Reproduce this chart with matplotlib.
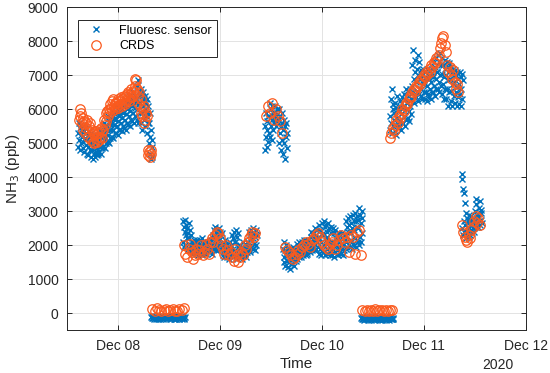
import pandas as pd
import matplotlib.pyplot as plt
import matplotlib.dates as mdates

plt.rcParams['font.family'] = ['Liberation Sans', 'DejaVu Sans']

# time spans (start, end) of each measurement block
sensor_spans = [('2020-12-07 14:40', '2020-12-08 08:10'),
                ('2020-12-08 07:55', '2020-12-08 15:50'),
                ('2020-12-08 15:20', '2020-12-09 08:40'),
                ('2020-12-09 10:35', '2020-12-09 15:50'),
                ('2020-12-09 14:55', '2020-12-10 09:35'),
                ('2020-12-10 09:20', '2020-12-10 16:50'),
                ('2020-12-10 16:05', '2020-12-11 09:10'),
                ('2020-12-11 08:55', '2020-12-11 13:40')]
crds_spans = [('2020-12-07 14:50', '2020-12-08 07:55'),
              ('2020-12-08 08:10', '2020-12-08 15:35'),
              ('2020-12-08 15:35', '2020-12-09 08:25'),
              ('2020-12-09 11:00', '2020-12-09 14:40'),
              ('2020-12-09 15:20', '2020-12-10 09:10'),
              ('2020-12-10 09:35', '2020-12-10 16:35'),
              ('2020-12-10 16:05', '2020-12-11 08:10'),
              ('2020-12-11 09:00', '2020-12-11 13:10')]

# fluorescence sensor NH3 (ppb), per block
sensor_a = [5300, 4900, 5600, 5100, 5450, 4800, 5250, 5550, 5000, 5350,
            5200, 4850, 5500, 5050, 5350, 4750, 5150, 5450, 4950, 5300,
            5100, 4700, 5450, 4900, 5250, 4650, 5000, 5350, 4800, 5200,
            5000, 4600, 5300, 4800, 5150, 4550, 4900, 5250, 4700, 5100,
            4950, 4600, 5250, 4750, 5100, 4650, 4850, 5200, 4700, 5050,
            5100, 4750, 5400, 4900, 5250, 4700, 5000, 5350, 4850, 5200,
            5300, 4900, 5600, 5100, 5450, 4850, 5200, 5550, 5000, 5400,
            5500, 5050, 5800, 5250, 5650, 5000, 5400, 5750, 5150, 5550,
            5650, 5200, 5950, 5400, 5800, 5150, 5550, 5900, 5300, 5700,
            5750, 5300, 6100, 5500, 5900, 5250, 5650, 6000, 5400, 5800,
            5850, 5400, 6200, 5600, 6000, 5350, 5750, 6100, 5500, 5900,
            5950, 5450, 6300, 5700, 6100, 5400, 5850, 6200, 5600, 6000,
            6050, 5550, 6400, 5800, 6200, 5500, 5950, 6300, 5700, 6100,
            6150, 5650, 6500, 5900, 6300, 5600, 6050, 6400, 5800, 6200,
            6300, 5700, 6700, 6000, 6850, 5600, 6200, 6550, 5900, 6400,
            6200, 5600, 6600, 5900, 6400, 5400, 6100, 6500, 5700, 6300,
            6000, 5500, 6400, 5800, 6200, 5300, 5900, 6300, 5600, 6100,
            5600, 5000, 5900, 5200, 4700, 5400, 4550, 4900, 5100, 4600]
sensor_b = [-110, -150, -90, -130, -170, -100, -140, -80, -120, -160,
            -130, -100, -160, -90, -140, -120, -170, -110, -150, -85,
            -120, -160, -95, -140, -110, -175, -130, -90, -150, -105,
            -140, -100, -165, -120, -85, -150, -110, -135, -95, -160,
            -115, -155, -90, -130, -170, -105, -145, -80, -125, -165,
            -100, -140, -120, -160, -90, -150, -110, -130, -170, -95]
sensor_c = [2700, 2100, 2550, 1950, 2400, 2750, 2000, 2300, 2600, 2200,
            2500, 1900, 2350, 2650, 2050, 2200, 1850, 2450, 2000, 2300,
            1900, 2100, 1750, 2000, 1800, 2150, 1850, 1950, 2050, 1800,
            2000, 1750, 2150, 1850, 2100, 1700, 1950, 2050, 1800, 1900,
            2150, 1750, 2000, 1800, 2200, 1700, 1900, 2100, 1850, 2050,
            1900, 2100, 1750, 2000, 1800, 2050, 1850, 1950, 2100, 1800,
            2000, 1800, 2100, 1850, 1950, 2150, 1750, 2050, 1900, 2200,
            2300, 1900, 2450, 2100, 2550, 2000, 2350, 1850, 2200, 2400,
            2250, 1850, 2500, 2000, 2150, 2400, 1900, 2300, 2050, 2350,
            1950, 1700, 2100, 1800, 2000, 1650, 1900, 2150, 1750, 1850,
            1850, 1650, 2050, 1750, 1950, 1600, 1800, 2100, 1700, 1900,
            2000, 1700, 2300, 1800, 2200, 1650, 1900, 2400, 1750, 2100,
            2100, 1650, 2450, 1800, 2250, 1600, 1950, 2350, 1700, 2000,
            1800, 1650, 2000, 1700, 1950, 1600, 1850, 2100, 1750, 1900,
            1850, 1700, 2050, 1750, 2000, 1650, 1900, 2100, 1800, 1950,
            2100, 1850, 2400, 1950, 2300, 1800, 2200, 2450, 2000, 2350,
            2200, 1900, 2500, 2050, 2350, 1850, 2250, 2450, 2000, 2300]
sensor_d = [5500, 4800, 5900, 5200, 5650, 4900, 5400, 5800, 5050, 5300,
            5800, 5200, 6200, 5500, 6000, 5100, 5700, 6100, 5400, 5900,
            5900, 5600, 6100, 5700, 5800, 5500, 6000, 5650, 5850, 5750,
            5700, 5000, 6000, 5300, 5800, 4800, 5500, 5900, 5100, 5600,
            5400, 4700, 5700, 5000, 5500, 4550, 5200, 5600, 4850, 5300]
sensor_e = [1900, 1500, 2100, 1650, 1850, 1400, 1750, 2000, 1550, 1800,
            1700, 1350, 1900, 1500, 1800, 1300, 1600, 1850, 1450, 1650,
            1750, 1450, 1950, 1600, 1850, 1400, 1700, 1900, 1550, 1800,
            1850, 1600, 2050, 1700, 1950, 1650, 1800, 2100, 1750, 1900,
            1900, 1650, 2100, 1750, 2000, 1700, 1850, 2150, 1800, 1950,
            2000, 1700, 2150, 1800, 2050, 1750, 1900, 2100, 1850, 1950,
            2100, 1800, 2400, 1950, 2250, 1850, 2050, 2350, 1900, 2200,
            2150, 1850, 2500, 2000, 2300, 1900, 2100, 2450, 1950, 2250,
            2200, 1750, 2600, 1900, 2450, 1700, 2100, 2650, 1850, 2350,
            2300, 1800, 2700, 2000, 2550, 1700, 2150, 2600, 1900, 2400,
            2250, 1750, 2650, 1950, 2500, 1700, 2100, 2550, 1850, 2350,
            2100, 1700, 2500, 1900, 2350, 1650, 2000, 2450, 1800, 2200,
            2000, 1750, 2300, 1850, 2200, 1700, 1950, 2350, 1800, 2100,
            2050, 1750, 2350, 1900, 2250, 1700, 2000, 2300, 1850, 2150,
            2300, 1900, 2700, 2100, 2550, 1950, 2400, 2800, 2000, 2600,
            2400, 1950, 2850, 2150, 2650, 1900, 2500, 2900, 2050, 2700,
            2450, 2000, 2950, 2200, 2700, 1950, 2550, 2850, 2100, 2750,
            2500, 2000, 3100, 2250, 2900, 2100, 2650, 3000, 2350, 2800]
sensor_f = [-140, -180, -120, -160, -190, -130, -170, -110, -150, -180,
            -160, -125, -185, -145, -115, -175, -135, -190, -155, -120,
            -130, -170, -110, -150, -185, -140, -165, -120, -180, -145,
            -175, -135, -155, -115, -190, -160, -125, -170, -140, -185,
            -145, -180, -120, -165, -135, -190, -150, -110, -170, -130,
            -160, -125, -185, -140, -175, -115, -155, -180, -135, -165]
sensor_g = [5800, 5400, 6300, 5600, 6600, 5300, 6000, 5500, 6150, 5700,
            5900, 5350, 6200, 5550, 6050, 5250, 5750, 6400, 5450, 6000,
            5950, 5500, 6250, 5650, 6100, 5400, 5850, 6350, 5600, 6050,
            6100, 5600, 6450, 5800, 6300, 5500, 6000, 6600, 5700, 6200,
            6200, 5750, 6550, 5950, 6400, 5650, 6100, 6600, 5850, 6300,
            6700, 6300, 7300, 6500, 7750, 6200, 6900, 7450, 6400, 7100,
            6800, 6350, 7200, 6550, 7600, 6250, 7000, 7400, 6450, 6900,
            6900, 6400, 7150, 6600, 7000, 6300, 6750, 7200, 6500, 6850,
            6800, 6300, 7100, 6500, 6950, 6250, 6700, 7200, 6450, 6900,
            6900, 6350, 7150, 6600, 7000, 6300, 6800, 7200, 6500, 6950,
            7000, 6500, 7400, 6700, 7250, 6400, 6900, 7500, 6600, 7100,
            7100, 6600, 7600, 6800, 7400, 6500, 7000, 7650, 6700, 7300,
            7050, 6450, 7500, 6750, 7300, 6300, 6950, 7450, 6600, 7200,
            7000, 6300, 7400, 6600, 7250, 6100, 6850, 7350, 6500, 7150,
            6900, 6250, 7250, 6550, 7100, 6100, 6750, 7200, 6400, 7000,
            6800, 6200, 7150, 6500, 7000, 6100, 6650, 7100, 6350, 6900,
            6750, 6150, 7100, 6450, 6950, 6100, 6600, 7050, 6300, 6850]
sensor_h = [4100, 2500, 3950, 2300, 3650, 2700, 3550, 2400, 3250, 2600,
            2950, 2200, 2800, 2400, 2650, 2300, 2750, 2500, 2900, 2250,
            2600, 2300, 2750, 2450, 2850, 2350, 2700, 2500, 2550, 2400,
            2700, 2500, 3000, 2600, 3350, 2550, 3200, 2800, 2900, 2650,
            2800, 2550, 3100, 2700, 3300, 2600, 2950, 2750, 3050, 2650]

# CRDS NH3 (ppb), per block
crds_a = [5700, 6000, 5800, 5900, 5600, 5750, 5400, 5650,
          5300, 5600, 5450, 5700, 5200, 5500, 5350, 5600,
          5100, 5400, 5050, 5300, 5000, 5250, 5150, 5350,
          5050, 5300, 5100, 5400, 5200, 5450, 5150, 5350,
          5400, 5700, 5550, 5900, 5650, 5950, 5800, 6000,
          5900, 6150, 6050, 6250, 5950, 6300, 6100, 6200,
          6000, 6200, 6100, 6300, 6050, 6250, 6150, 6350,
          6100, 6300, 6200, 6400, 6150, 6350, 6250, 6450,
          6300, 6500, 6250, 6450, 6400, 6600, 6350, 6550,
          6500, 6700, 6900, 6850, 6600, 6400, 6200, 6500,
          6100, 5900, 6300, 5800, 6000, 5600, 6100, 5700,
          5900, 5800, 4800, 4650, 4750, 4600, 4700, 4800]
crds_b = [120, 80, 150, 90, 60, 110, 130, 70, 100, 140, 80, 60, 120, 90, 150]
crds_c = [2000, 1750, 1650, 1900, 2050, 1800, 1600, 1700, 1900, 1750,
          1850, 2000, 1700, 1800, 2050, 1900, 1750, 2100, 2200, 2100,
          2300, 2400, 2350, 2200, 2000, 1900, 1750, 2000, 1850, 1700,
          1800, 1650, 1550, 1900, 1700, 1500, 1650, 1800, 1700, 2000,
          1900, 2100, 2200, 2300, 2400, 2250, 2350]
crds_d = [5800, 6100, 5900, 6200, 5700, 6000, 5800, 5650, 5300]
crds_e = [1950, 1850, 1800, 1700, 1600, 1650, 1750, 1850, 1800, 1950,
          2000, 2100, 2050, 1950, 2150, 2200, 2300, 2350, 2250, 2100,
          2000, 1950, 1900, 2050, 2100, 2200, 1900, 2000, 2150, 2300,
          2200, 2100, 2250, 1800, 2300, 2250, 1750, 2400, 2450, 1700]
crds_f = [90, 60, 110, 70, 100, 80, 120, 60, 90, 110, 70, 100, 80, 110, 90]
crds_g = [5150, 5300, 5450, 5350, 5550, 5700, 5600, 5800, 5750, 5900,
          6000, 5950, 6100, 6200, 6150, 6300, 6400, 6350, 6500, 6600,
          6550, 6700, 6650, 6800, 6750, 6900, 6850, 7000, 6950, 7100,
          7050, 7200, 7100, 7300, 7250, 7400, 7350, 7500, 7450, 7600,
          7800, 7950, 8100, 8150, 7900, 7700, 7300, 7100, 7250, 7000,
          6900, 7150, 6800, 6600, 6750, 6500]
crds_h = [2600, 2400, 2250, 2150, 2100, 2300, 2200, 2450, 2550, 2700, 2850, 2650,
          2800, 2600]

sensor_blocks = [sensor_a, sensor_b, sensor_c, sensor_d, sensor_e, sensor_f, sensor_g, sensor_h]
crds_blocks = [crds_a, crds_b, crds_c, crds_d, crds_e, crds_f, crds_g, crds_h]


def build_series(spans, blocks):
    """Spread each block's readings evenly over its time span."""
    parts = []
    for (start, end), vals in zip(spans, blocks):
        t = pd.date_range(start, end, periods=len(vals))
        parts.append(pd.Series(vals, index=t))
    return pd.concat(parts)


sensor = build_series(sensor_spans, sensor_blocks)
crds = build_series(crds_spans, crds_blocks)

fig = plt.figure(figsize=(5.5, 3.73), dpi=100)
ax = fig.add_axes([0.1213, 0.1145, 0.8345, 0.8659])

ax.plot(sensor.index, sensor.values, 'x', color='#0072BD', markersize=5,
        markeredgewidth=1.0, label='Fluoresc. sensor')
ax.plot(crds.index, crds.values, 'o', mfc='none', mec='#FA5A1E', markersize=6.8,
        markeredgewidth=0.9, label='CRDS')

ax.set_xlim(pd.Timestamp('2020-12-07 12:00'), pd.Timestamp('2020-12-12'))
ax.set_ylim(-500, 9000)
ax.set_yticks(range(0, 9001, 1000))
ax.xaxis.set_major_locator(mdates.DayLocator())
ax.xaxis.set_major_formatter(mdates.DateFormatter('%b %d'))

ax.grid(True, color='#e3e3e3', linewidth=0.7)
ax.set_axisbelow(True)
for s in ax.spines.values():
    s.set_color('#262626')
    s.set_linewidth(0.7)
ax.tick_params(direction='in', length=3.5, width=0.7, top=True, right=True,
               colors='#262626', labelsize=10, pad=6)

ax.set_xlabel('Time', fontsize=11, color='#262626', labelpad=3)
ax.set_ylabel('NH$_3$ (ppb)', fontsize=11, color='#262626')
ax.text(0.94, -0.085, '2020', transform=ax.transAxes, ha='center', va='top',
        fontsize=10, color='#262626')

leg = ax.legend(loc='upper left', bbox_to_anchor=(0.025, 0.962), borderaxespad=0,
                fontsize=9, fancybox=False, edgecolor='#262626', framealpha=1,
                borderpad=0.4, handletextpad=0.9, labelspacing=0.3)
leg.get_frame().set_linewidth(0.7)

fig.savefig('out.png', dpi=100)
